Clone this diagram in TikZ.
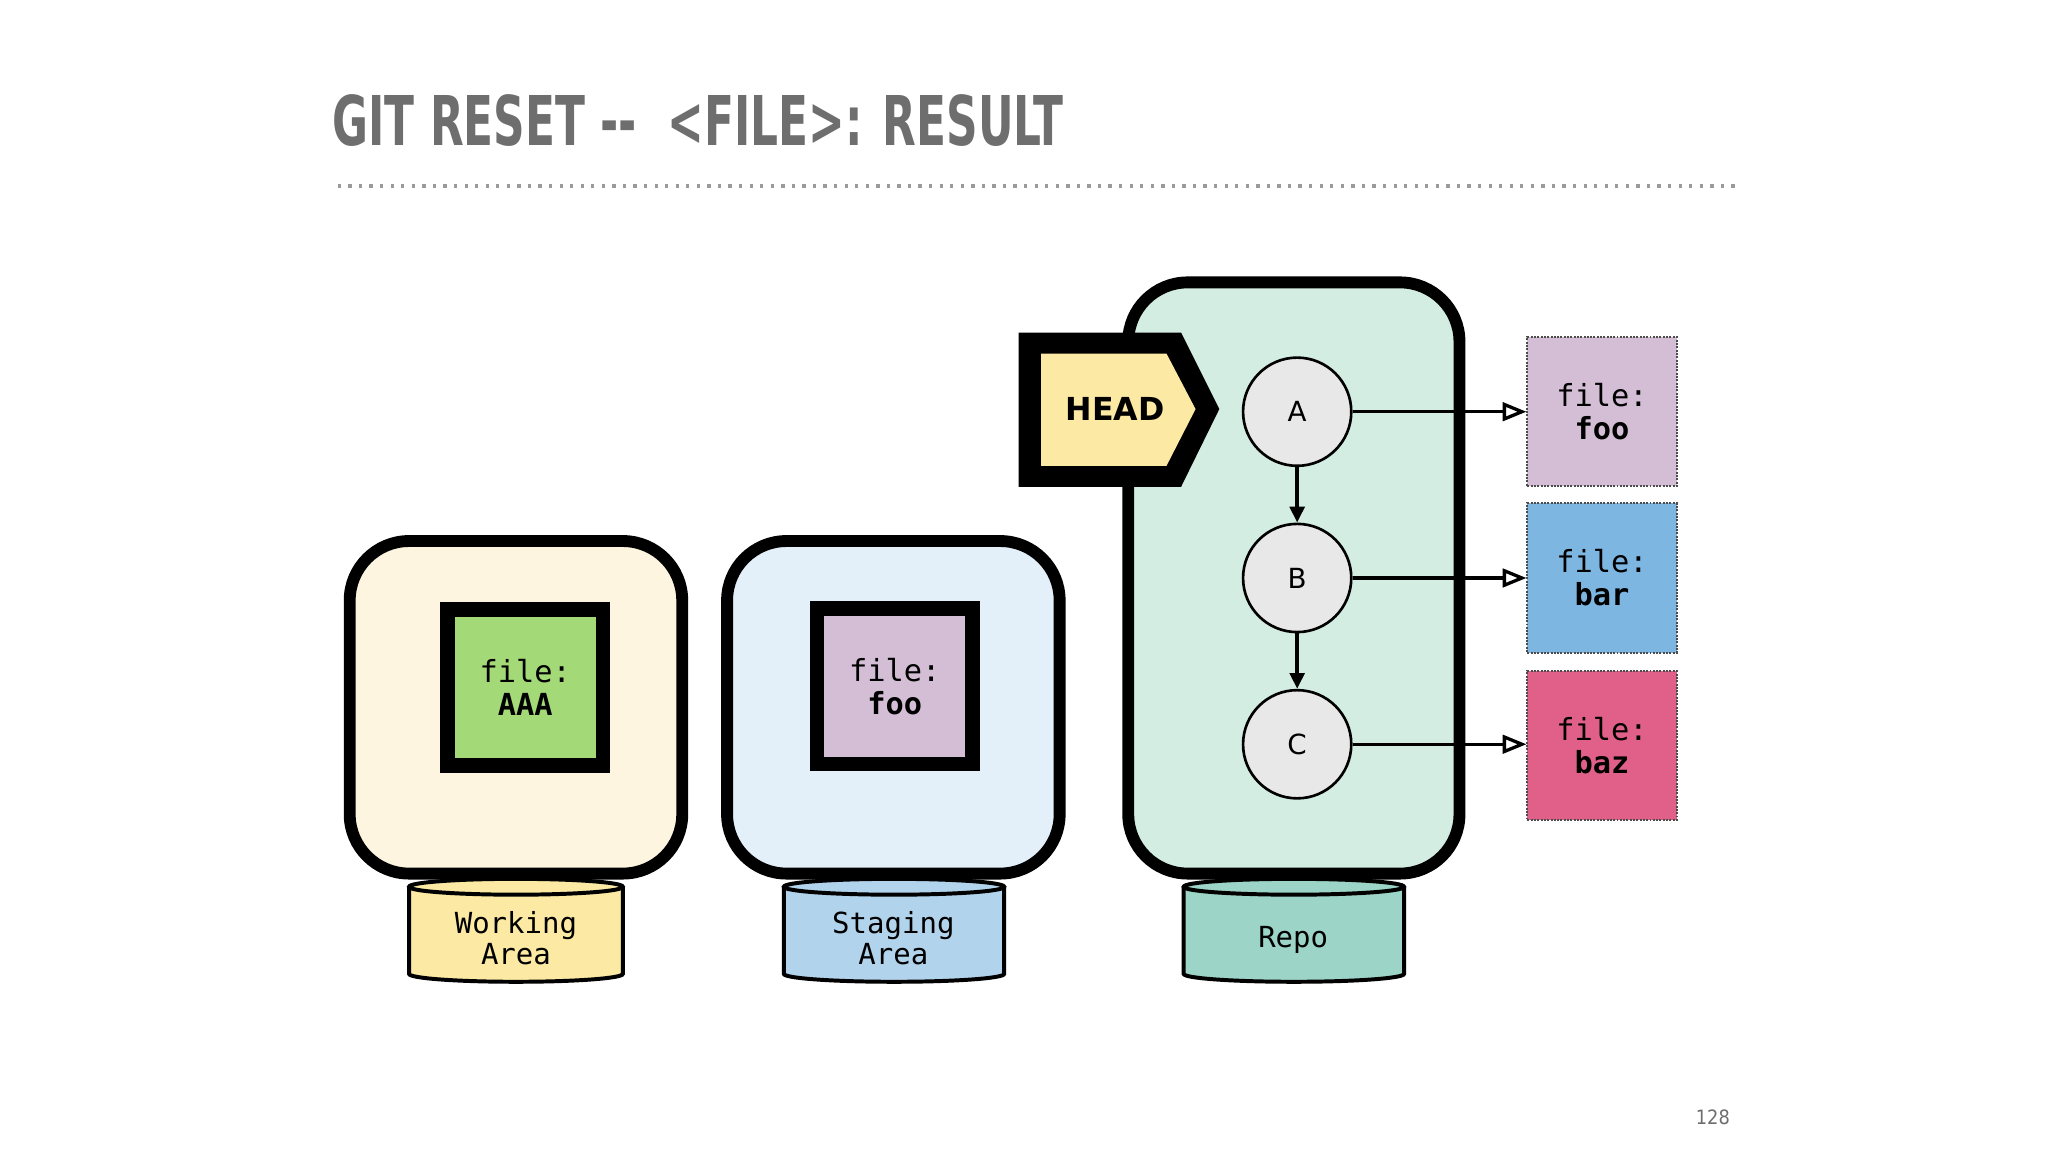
\documentclass[tikz,border=0pt]{standalone}
\usepackage{fontspec}
\setmainfont{DejaVu Sans}
\newfontfamily\titlefont{DejaVu Sans Condensed}
\newfontfamily\monofont{DejaVu Sans Mono}
\usetikzlibrary{arrows.meta}
\definecolor{titlegray}{HTML}{6E6E6E}
\definecolor{wbg}{RGB}{253,245,224}
\definecolor{sbg}{RGB}{227,240,250}
\definecolor{rbg}{RGB}{211,237,227}
\definecolor{yel}{RGB}{252,233,163}
\definecolor{grn}{RGB}{163,217,119}
\definecolor{lil}{RGB}{211,190,214}
\definecolor{blu}{RGB}{178,211,236}
\definecolor{tea}{RGB}{157,212,200}
\definecolor{bar}{RGB}{126,182,226}
\definecolor{pnk}{RGB}{224,96,138}
\tikzset{
  box/.style={draw=black,line width=9pt,rounded corners=45pt},
  inner/.style={draw=black,line width=11pt,minimum width=118pt,minimum height=118pt,inner sep=0pt,align=center,font=\monofont\fontsize{23}{25}\selectfont},
  cyl/.style={draw=black,line width=3pt},
  commit/.style={circle,draw=black,line width=2pt,fill=gray!18,minimum size=82pt,inner sep=0pt,font=\fontsize{21}{24}\selectfont},
  fbox/.style={draw=black!70,densely dotted,line width=1.5pt,minimum width=113pt,minimum height=113pt,inner sep=0pt,align=center,font=\monofont\fontsize{23}{25}\selectfont},
  lab/.style={align=center,font=\monofont\fontsize{22}{24}\selectfont},
}
\newcommand{\mycyl}[3]{% x1 x2 fill
  \fill[#3] (#1,672) rectangle (#2,738);
  \fill[#3] ({(#1+#2)/2},738) ellipse[x radius={(#2-#1)/2},y radius=6];
  \draw[cyl] (#1,672) -- (#1,738) arc[start angle=180,end angle=0,x radius={(#2-#1)/2},y radius=6] -- (#2,672);
  \draw[cyl,fill=#3] ({(#1+#2)/2},672) ellipse[x radius={(#2-#1)/2},y radius=6];
}
\begin{document}
\begin{tikzpicture}[x=1pt,y=-1pt]
\useasboundingbox (0,0) rectangle (1552,873);
\fill[white] (0,0) rectangle (1552,873);
\node[anchor=base west,text=titlegray,inner sep=0pt,xscale=0.71,font=\titlefont\bfseries\fontsize{52}{54}\selectfont] (title) at (252,110) {GIT RESET --\ \ <FILE>: RESULT};
\draw[titlegray!70,line width=2.5pt,dash pattern=on 2.5pt off 5.5pt] (256,141) -- (1318,141);
% Working area
\draw[box,fill=wbg] (265,410) rectangle (517,662);
\node[inner,fill=grn] (aaa) at (398,521) {file:\\\textbf{AAA}};
\mycyl{310}{472}{yel}
\node[lab] (wa) at (391,711) {Working\\Area};
% Staging
\draw[box,fill=sbg] (551,410) rectangle (803,662);
\node[inner,fill=lil] (sfoo) at (678,520) {file:\\\textbf{foo}};
\mycyl{594}{761}{blu}
\node[lab] (sa) at (677,711) {Staging\\Area};
% Repo
\draw[box,fill=rbg] (855,214) rectangle (1106,662);
\mycyl{897}{1064}{tea}
\node[lab] (repo) at (980,712) {Repo};
% HEAD
\fill[black] (772,252) -- (895,252) -- (924,310) -- (895,369) -- (772,369) -- cycle;
\fill[yel] (789,268) -- (884,268) -- (906,310) -- (884,353) -- (789,353) -- cycle;
\node[font=\bfseries\fontsize{24}{26}\selectfont] (head) at (845,310) {HEAD};
% commits
\node[commit] (A) at (983,312) {A};
\node[commit] (B) at (983,438) {B};
\node[commit] (C) at (983,564) {C};
\draw[line width=3pt,-{Triangle[length=12pt,width=11pt]}] (A) -- (B);
\draw[line width=3pt,-{Triangle[length=12pt,width=11pt]}] (B) -- (C);
% files
\node[fbox,fill=lil] (foo) at (1214,312) {file:\\\textbf{foo}};
\node[fbox,fill=bar] (bar) at (1214,438) {file:\\\textbf{bar}};
\node[fbox,fill=pnk] (baz) at (1214,565) {file:\\\textbf{baz}};
\foreach \s/\t in {A/foo,B/bar,C/baz}
  \draw[line width=2.5pt,-{Triangle[open,length=18pt,width=14pt,line width=2.5pt]}] (\s) -- (\s -| \t.west);
\node[text=titlegray,font=\titlefont\fontsize{15}{16}\selectfont] (pg) at (1298,847) {128};
\end{tikzpicture}
\end{document}
